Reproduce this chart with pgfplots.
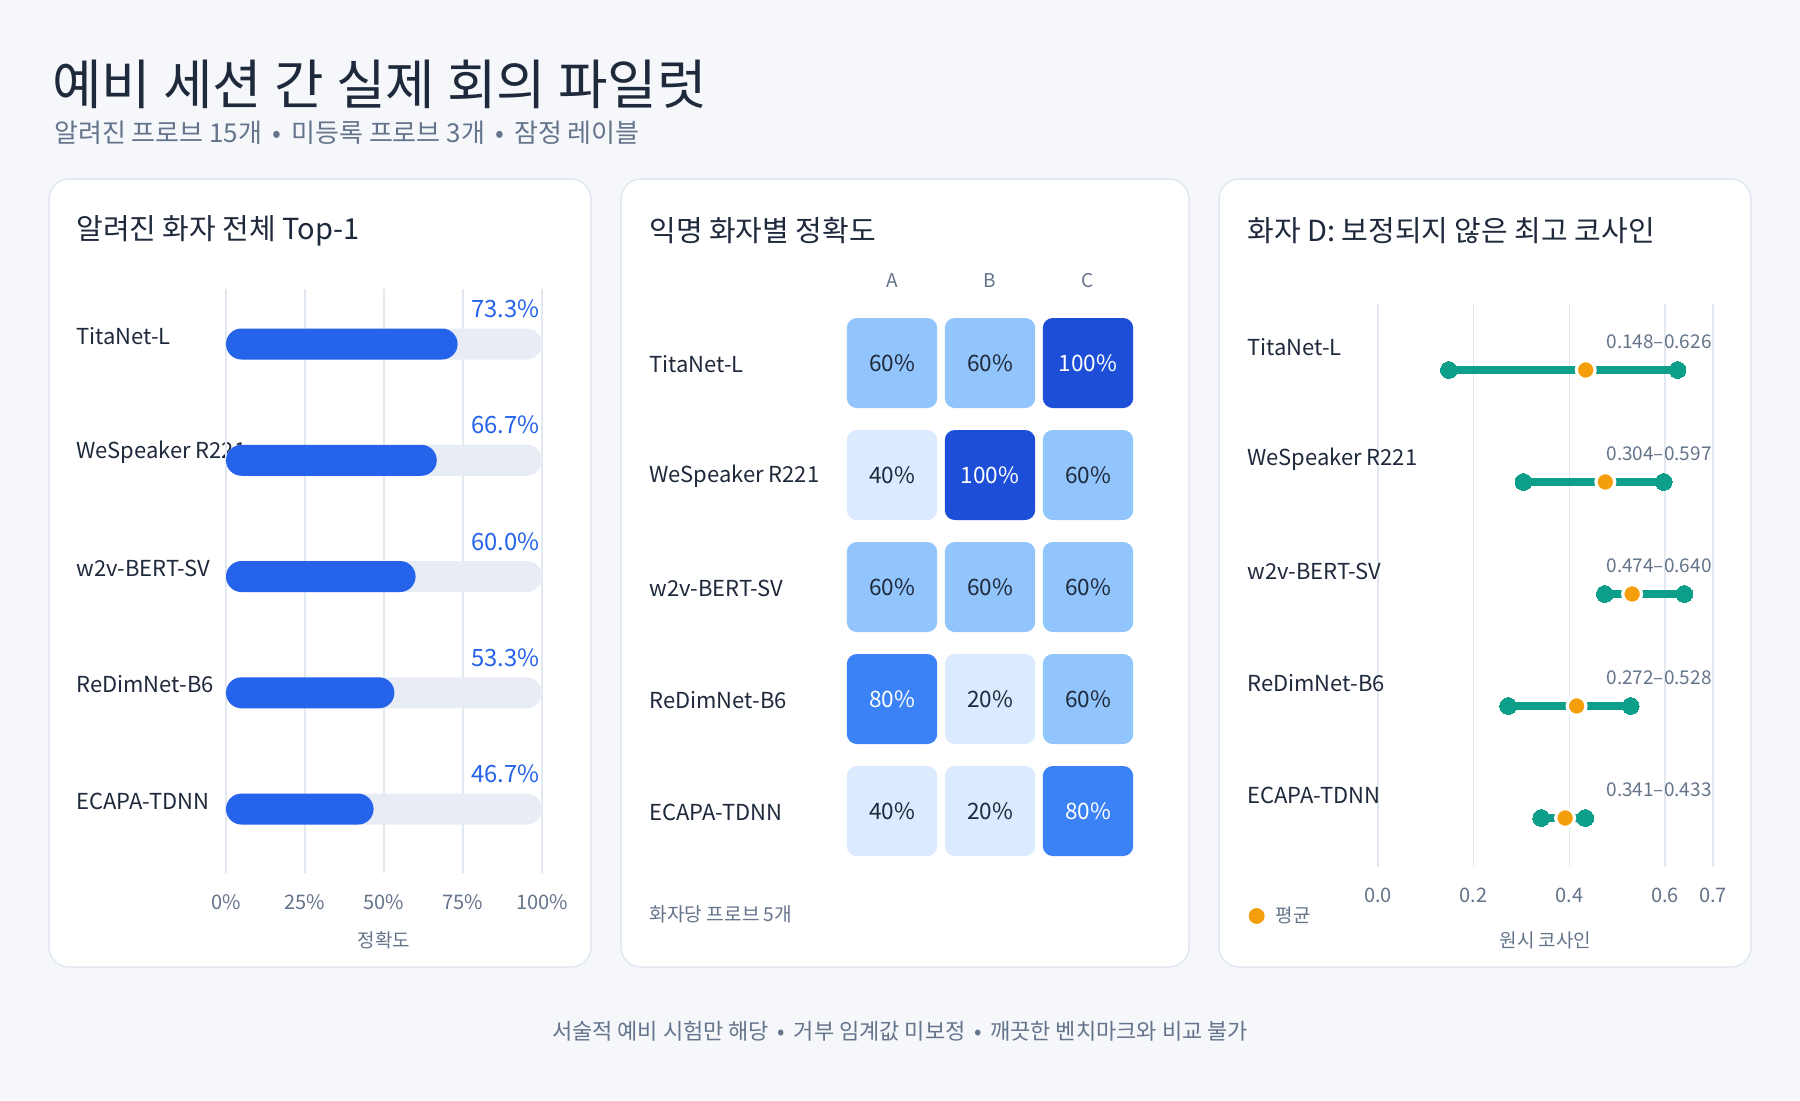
\documentclass[border=0pt]{standalone}
\usepackage{fontspec}
\setmainfont{Noto Sans CJK KR}
\usepackage{pgfplots}
\pgfplotsset{compat=1.18, /pgf/number format/assume math mode=true}
\definecolor{bg}{HTML}{F5F7FB}
\definecolor{border}{HTML}{E2E8F0}
\definecolor{ink}{HTML}{1E293B}
\definecolor{muted}{HTML}{64748B}
\definecolor{gridc}{HTML}{E2E8F0}
\definecolor{track}{HTML}{E8EDF5}
\definecolor{barblue}{HTML}{2563EB}
\definecolor{hA}{HTML}{DBEAFE}
\definecolor{hB}{HTML}{93C5FD}
\definecolor{hC}{HTML}{3B82F6}
\definecolor{hD}{HTML}{1D4ED8}
\definecolor{tealc}{HTML}{0E9F8A}
\definecolor{orng}{HTML}{F59E0B}
\newcommand{\fs}[1]{\fontsize{#1}{#1}\selectfont}
\pgfdeclareplotmark{rsq}{%
  \pgfpathmoveto{\pgfqpoint{-17.6pt}{-22.5pt}}%
  \pgfpathlineto{\pgfqpoint{17.6pt}{-22.5pt}}%
  \pgfpatharc{-90}{0}{5pt}%
  \pgfpathlineto{\pgfqpoint{22.6pt}{17.5pt}}%
  \pgfpatharc{0}{90}{5pt}%
  \pgfpathlineto{\pgfqpoint{-17.6pt}{22.5pt}}%
  \pgfpatharc{90}{180}{5pt}%
  \pgfpathlineto{\pgfqpoint{-22.6pt}{-17.5pt}}%
  \pgfpatharc{180}{270}{5pt}%
  \pgfpathclose
  \pgfusepathqfill}
\begin{document}
\begin{tikzpicture}
\begin{scope}[x=0.5pt,y=-0.5pt]
\fill[bg] (0,0) rectangle (1800,1100);
\foreach \a/\b in {49/591, 621/1189, 1219/1751}{
  \draw[border, line width=0.75pt, fill=white, rounded corners=10pt] (\a,179) rectangle (\b,967);
}
\node[anchor=west, inner sep=0pt, text=ink, font=\fs{26.9}] at (52,84) {예비 세션 간 실제 회의 파일럿};
\node[anchor=west, inner sep=0pt, text=muted, font=\fs{13}] at (54,133) {알려진 프로브 15개 \,•\, 미등록 프로브 3개 \,•\, 잠정 레이블};
\node[anchor=west, inner sep=0pt, text=ink, font=\fs{14.5}] at (76,231) {알려진 화자 전체 Top-1};
\node[anchor=west, inner sep=0pt, text=ink, font=\fs{14.5}] at (649,231) {익명 화자별 정확도};
\node[anchor=west, inner sep=0pt, text=ink, font=\fs{14.5}] at (1247,231) {화자 D: 보정되지 않은 최고 코사인};
\node[anchor=center, inner sep=0pt, text=muted, font=\fs{11}] at (900,1031) {서술적 예비 시험만 해당 \,•\, 거부 임계값 미보정 \,•\, 깨끗한 벤치마크와 비교 불가};
% panel 1 labels (drawn before the bars, which cover part of one)
\foreach \t/\y in {TitaNet-L/336, WeSpeaker R221/452, w2v-BERT-SV/568, ReDimNet-B6/684, ECAPA-TDNN/801}{
  \node[anchor=west, inner sep=0pt, text=ink, font=\fs{11}] at (76,\y) {\t};
}
% panel 2 labels
\foreach \t/\y in {TitaNet-L/364, WeSpeaker R221/476, w2v-BERT-SV/588, ReDimNet-B6/700, ECAPA-TDNN/812}{
  \node[anchor=west, inner sep=0pt, text=ink, font=\fs{11}] at (649,\y) {\t};
}
\node[anchor=west, inner sep=0pt, text=muted, font=\fs{9.6}] at (649,914) {화자당 프로브 5개};
\coordinate (A1) at (226,873);
\coordinate (A2) at (843,867);
\coordinate (A3) at (1378,867);
\end{scope}

% ---------- panel 1: bars
\begin{axis}[at={(A1)}, anchor=south west, scale only axis, width=158pt, height=292pt,
  xmin=0, xmax=100, ymin=-0.55, ymax=4.473, clip=false,
  axis line style={draw=none}, tick style={draw=none}, major tick length=0pt,
  xtick={0,25,50,75,100}, xticklabels={0\%,25\%,50\%,75\%,100\%},
  ytick=\empty, xmajorgrids, grid style={gridc, line width=0.75pt},
  xticklabel style={anchor=center, yshift=-14.5pt, font=\fs{10}, text=muted},
  xlabel={정확도}, xlabel style={at={(0.5,-0.1147)}, anchor=center, font=\fs{9.5}, text=muted}]
\addplot[xbar, bar width=15.5pt, bar shift=0pt, fill=track, draw=none, rounded corners=7.75pt,
  point meta=explicit,
  nodes near coords={\pgfmathprintnumber[fixed,fixed zerofill,precision=1]{\pgfplotspointmeta}\%},
  nodes near coords style={anchor=east, inner sep=0pt, xshift=-1pt, yshift=17.5pt, text=barblue, font=\fs{11.9}}]
  coordinates {(100,4) [73.3] (100,3) [66.7] (100,2) [60.0] (100,1) [53.3] (100,0) [46.7]};
\addplot[xbar, bar width=15.5pt, bar shift=0pt, fill=barblue, draw=none, rounded corners=7.75pt]
  coordinates {(73.3,4) (66.7,3) (60.0,2) (53.3,1) (46.7,0)};
\end{axis}

% ---------- panel 2: heat map
\begin{axis}[at={(A2)}, anchor=south west, scale only axis, width=147pt, height=280pt,
  xmin=-0.5, xmax=2.5, ymin=-0.5, ymax=4.5, clip=false,
  axis line style={draw=none}, tick style={draw=none}, major tick length=0pt,
  xtick={0,1,2}, xticklabels={A,B,C}, xticklabel pos=upper, ytick=\empty,
  xticklabel style={anchor=center, yshift=13pt, font=\fs{9.5}, text=muted},
  point meta=explicit,
  nodes near coords={\pgfmathprintnumber{\pgfplotspointmeta}\%},
  nodes near coords style={anchor=center, inner sep=0pt, font=\fs{11.3}}]
\addplot[only marks, mark=rsq, fill=hA, draw=none, nodes near coords style={text=ink}]
  coordinates {(0,3) [40] (1,1) [20] (0,0) [40] (1,0) [20]};
\addplot[only marks, mark=rsq, fill=hB, draw=none, nodes near coords style={text=ink}]
  coordinates {(0,4) [60] (1,4) [60] (2,3) [60] (0,2) [60] (1,2) [60] (2,2) [60] (2,1) [60]};
\addplot[only marks, mark=rsq, fill=hC, draw=none, nodes near coords style={text=white}]
  coordinates {(0,1) [80] (2,0) [80]};
\addplot[only marks, mark=rsq, fill=hD, draw=none, nodes near coords style={text=white}]
  coordinates {(2,4) [100] (1,3) [100]};
\end{axis}

% ---------- panel 3: dumbbells
\begin{axis}[at={(A3)}, anchor=south west, scale only axis, width=167.5pt, height=281.5pt,
  xmin=0, xmax=0.7, ymin=-0.4375, ymax=4.589, clip=false,
  axis line style={draw=none}, tick style={draw=none}, major tick length=0pt,
  xtick={0,0.2,0.4,0.6,0.7}, xticklabels={0.0,0.2,0.4,0.6,0.7}, ytick=\empty,
  xmajorgrids, grid style={gridc, line width=0.75pt},
  xticklabel style={anchor=center, yshift=-14pt, font=\fs{10}, text=muted},
  xlabel={원시 코사인}, xlabel style={at={(0.5,-0.1297)}, anchor=center, font=\fs{9.5}, text=muted},
  legend style={at={(-0.387,-0.087)}, anchor=west, draw=none, fill=none, font=\fs{9.5}, text=muted, inner sep=0pt, column sep=4pt, nodes={inner sep=1.5pt}},
  legend image code/.code={\fill[orng] (0pt,0pt) circle (3.75pt);}]
\pgfplotsset{dumb/.style={tealc, line width=3.6pt, mark=*, mark size=4.2pt, mark options={fill=tealc, draw=tealc, line width=0pt}, forget plot}}
\addplot[dumb] coordinates {(0.148,4) (0.626,4)};
\addplot[dumb] coordinates {(0.304,3) (0.597,3)};
\addplot[dumb] coordinates {(0.474,2) (0.640,2)};
\addplot[dumb] coordinates {(0.272,1) (0.528,1)};
\addplot[dumb] coordinates {(0.341,0) (0.433,0)};
\addplot[only marks, mark=*, mark size=4.7pt, mark options={fill=orng, draw=white, line width=1.6pt}]
  coordinates {(0.434,4) (0.475,3) (0.531,2) (0.415,1) (0.391,0)};
\addlegendentry{평균}
\end{axis}

\begin{scope}[x=0.5pt,y=-0.5pt]
% panel 3 labels (over the grid lines)
\foreach \t/\y in {TitaNet-L/347, WeSpeaker R221/459, w2v-BERT-SV/571, ReDimNet-B6/683, ECAPA-TDNN/795}{
  \node[anchor=west, inner sep=0pt, text=ink, font=\fs{11}] at (1247,\y) {\t};
}
\foreach \t/\y in {0.148–0.626/342, 0.304–0.597/454, 0.474–0.640/566, 0.272–0.528/678, 0.341–0.433/790}{
  \node[anchor=east, inner sep=0pt, text=muted, font=\fs{9.5}] at (1712,\y) {\t};
}
\end{scope}
\pgfresetboundingbox
\path (0,0) rectangle (900pt,-550pt);
\end{tikzpicture}
\end{document}
